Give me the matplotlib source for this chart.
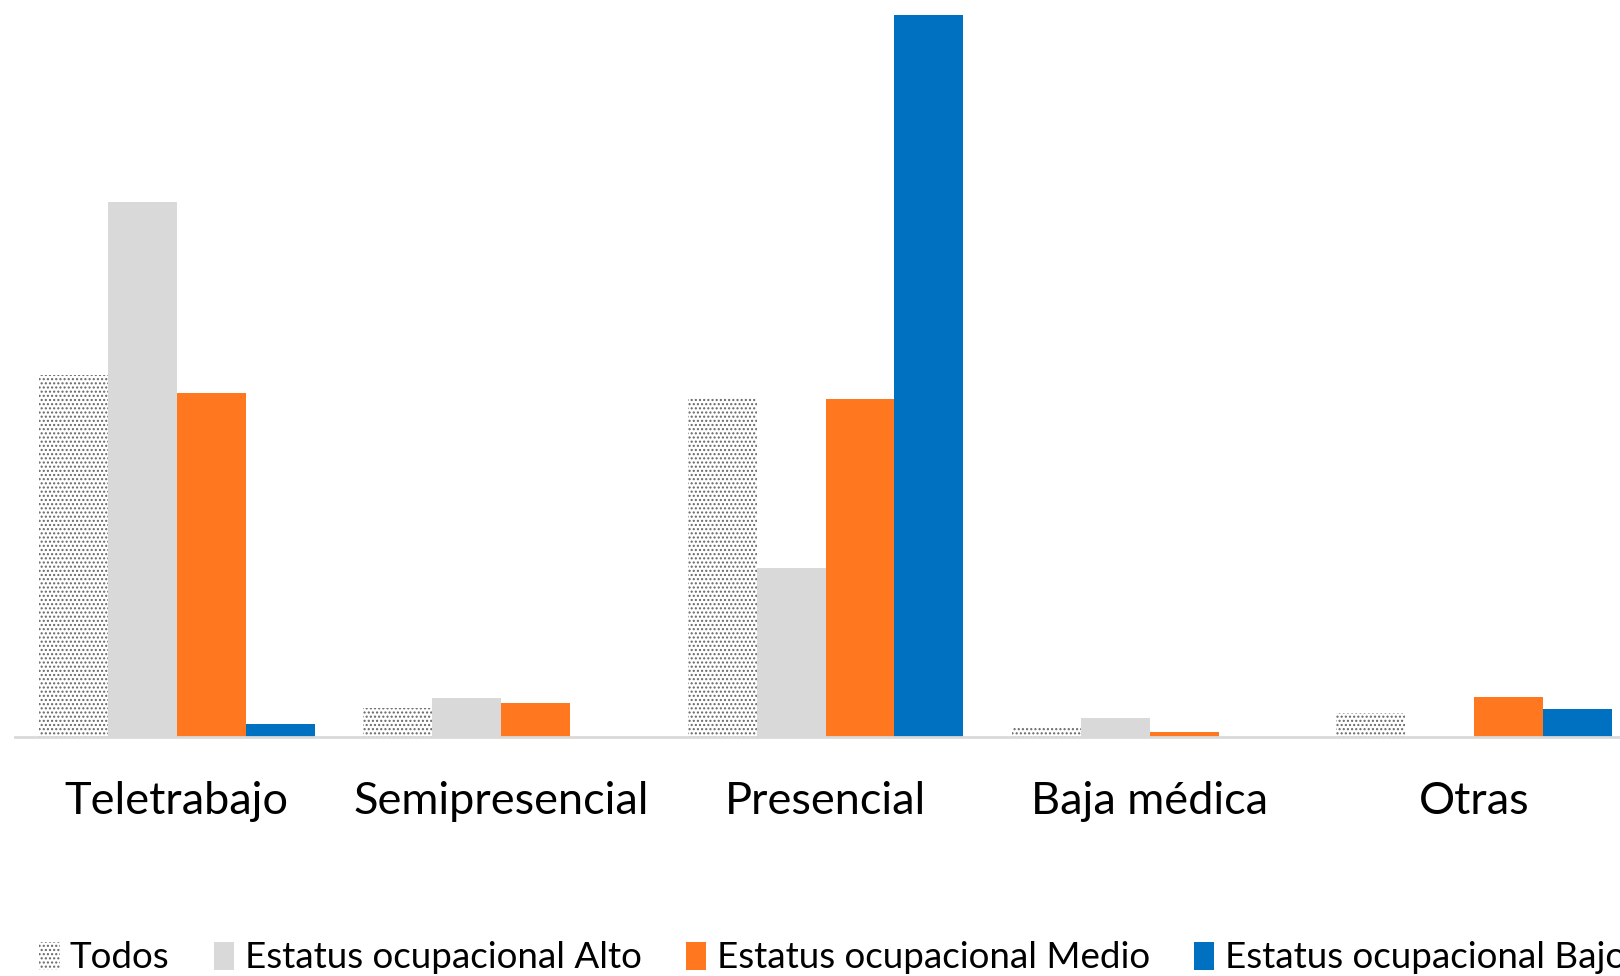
import numpy as np
import matplotlib
matplotlib.use("Agg")
from matplotlib import pyplot as plt

plt.rcParams["font.family"] = ["Lato", "DejaVu Sans"]
plt.rcParams["hatch.linewidth"] = 1.0

categories = ["Teletrabajo", "Semipresencial", "Presencial", "Baja médica", "Otras"]
series_names = ["Todos", "Estatus ocupacional Alto", "Estatus ocupacional Medio",
                "Estatus ocupacional Bajo"]
todos = [47.3, 3.8, 44.5, 1.2, 3.1]
alto = [70.0, 5.1, 22.1, 2.5, 0.0]
medio = [45.0, 4.4, 44.2, 0.7, 5.2]
bajo = [1.7, 0.0, 94.4, 0.0, 3.6]

series = [todos, alto, medio, bajo]
colors = ["white", "#d9d9d9", "#ff781f", "#0070c0"]

fig = plt.figure(figsize=(16.2, 9.76), dpi=100)
ax = fig.add_axes([14.5 / 1620, 239 / 976, 1622 / 1620, 737 / 976])

x = np.arange(len(categories))
w = 0.2125
handles = []
for i, (vals, name, col) in enumerate(zip(series, series_names, colors)):
    if i == 0:
        b = ax.bar(x + (i - 1.5) * w, vals, w, color="white", edgecolor="#666666",
                   hatch="....", linewidth=0, label=name)
    else:
        b = ax.bar(x + (i - 1.5) * w, vals, w, color=col, linewidth=0, label=name)
    handles.append(b)

ax.set_xlim(-0.5, 4.5)
ax.set_ylim(0, 96.4)
ax.set_yticks([])
ax.set_xticks(x)
ax.set_xticklabels(categories, fontsize=32.5)
ax.tick_params(axis="x", length=0, pad=32)
for s in ["top", "left", "right"]:
    ax.spines[s].set_visible(False)
ax.spines["bottom"].set_color("#d9d9d9")
ax.spines["bottom"].set_linewidth(2)

fig.legend(handles=handles, loc="center left", bbox_to_anchor=(39 / 1620, 1 - 958 / 976),
           ncol=4, frameon=False, fontsize=26.5, handlelength=0.56, handleheight=0.8,
           handletextpad=0.28, columnspacing=1.2, borderpad=0, borderaxespad=0)

plt.savefig("out.png", dpi=100)
